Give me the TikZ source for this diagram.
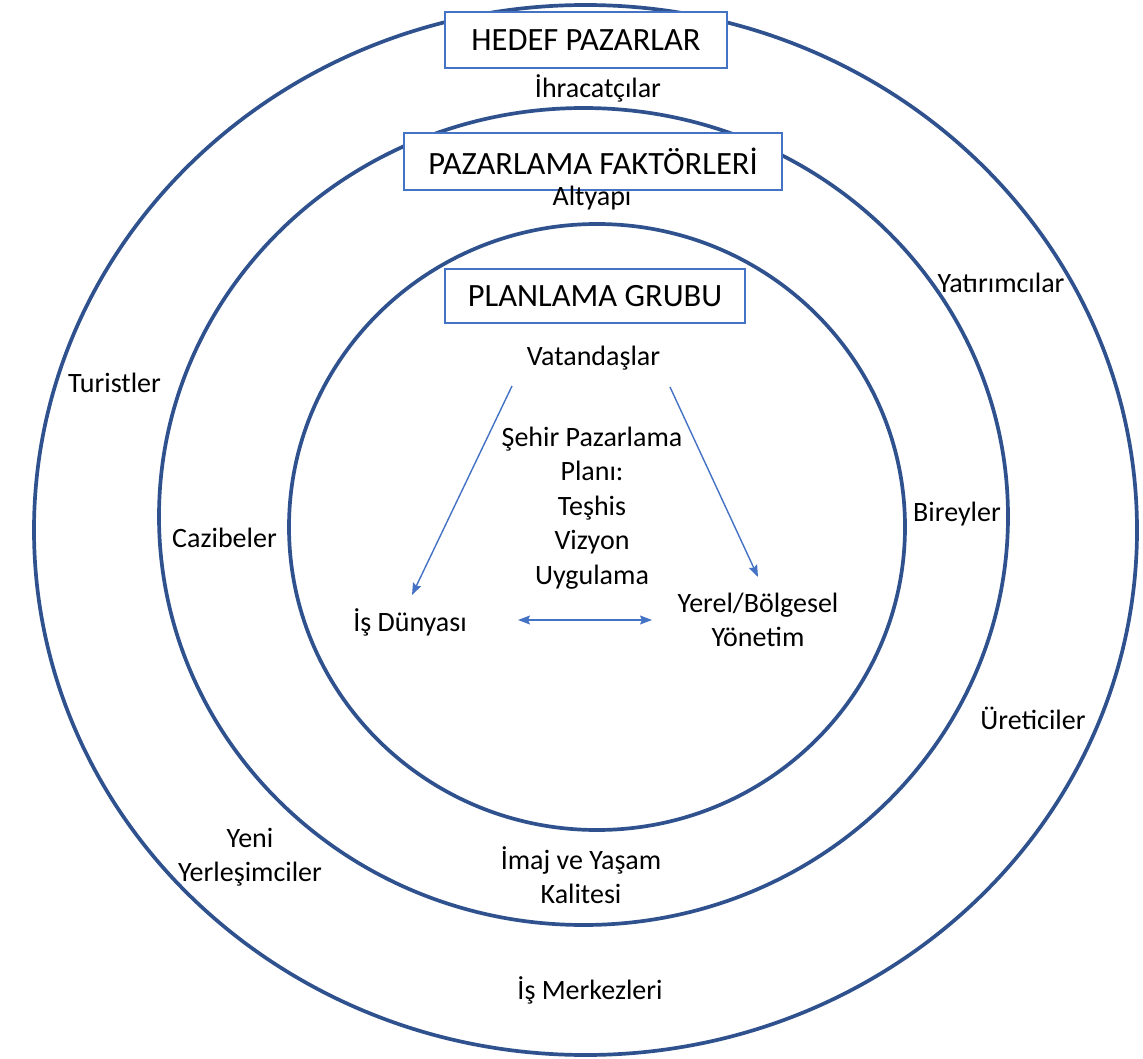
\documentclass[tikz,border=0pt]{standalone}
\usepackage{fontspec}
\setmainfont{Carlito}
\usetikzlibrary{shapes.geometric,arrows.meta}
\definecolor{ringblue}{HTML}{2F528F}
\definecolor{boxblue}{HTML}{4472C4}
\begin{document}
\begin{tikzpicture}[x=1pt,y=-1pt,
  ring/.style={draw=ringblue, line width=3.7pt, ellipse, inner sep=0pt},
  titlebox/.style={draw=boxblue, fill=white, line width=1.9pt, inner sep=0pt,
    font=\fontsize{32.5}{38}\selectfont},
  lbl/.style={align=center, inner sep=0pt, font=\fontsize{28}{34.5}\selectfont},
  link/.style={draw=boxblue, line width=1.4pt,
    >={Stealth[length=12pt,width=9pt,inset=2pt]}}]
% page
\fill[white] (0,0) rectangle (1143,1059);
\useasboundingbox (0,0) rectangle (1143,1059);

% three nested rings
\node[ring, minimum width=1103pt, minimum height=1050pt] (outer) at (585.5,530) {};
\node[ring, minimum width=849pt,  minimum height=817pt]  (middle) at (583.5,516.5) {};
\node[ring, minimum width=616pt,  minimum height=606pt]  (inner) at (597,527) {};

% ring titles
\node[titlebox, minimum width=282pt, minimum height=56pt] (hedef) at (586,40) {HEDEF PAZARLAR};
\node[titlebox, minimum width=378pt, minimum height=57pt] (faktor) at (593,161.5) {PAZARLAMA FAKTÖRLERİ};
\node[titlebox, minimum width=300pt, minimum height=54pt] (grup) at (595,296) {PLANLAMA GRUBU};

% target markets (outer ring)
\node[lbl] (ihrac) at (598,88) {İhracatçılar};
\node[lbl] (yatirim) at (1001,283) {Yatırımcılar};
\node[lbl] (turist) at (114.5,383) {Turistler};
\node[lbl] (uretici) at (1033,718) {Üreticiler};
\node[lbl] (yeni) at (250,857) {Yeni\\Yerleşimciler};
\node[lbl] (merkez) at (590,990) {İş Merkezleri};

% marketing factors (middle ring)
\node[lbl] (altyapi) at (592,198) {Altyapı};
\node[lbl] (cazibe) at (224.5,538) {Cazibeler};
\node[lbl] (birey) at (957,514) {Bireyler};
\node[lbl] (imaj) at (581,875) {İmaj ve Yaşam\\Kalitesi};

% planning group (inner ring)
\node[lbl] (vatan) at (593.5,358) {Vatandaşlar};
\node[lbl] (plan) at (592,508) {Şehir Pazarlama\\Planı:\\Teşhis\\Vizyon\\Uygulama};
\node[lbl] (isdunya) at (410,622) {İş Dünyası};
\node[lbl] (yonetim) at (758,620) {Yerel/Bölgesel\\Yönetim};

% arrow end points
\coordinate (vL) at (512,386);
\coordinate (dL) at (412,595);
\coordinate (vR) at (670,387);
\coordinate (yR) at (758,577);
\coordinate (hL) at (518,620);
\coordinate (hR) at (652,620);

\draw[link, ->] (vL) -- (dL);
\draw[link, ->] (vR) -- (yR);
\draw[link, <->] (hL) -- (hR);
\end{tikzpicture}
\end{document}
